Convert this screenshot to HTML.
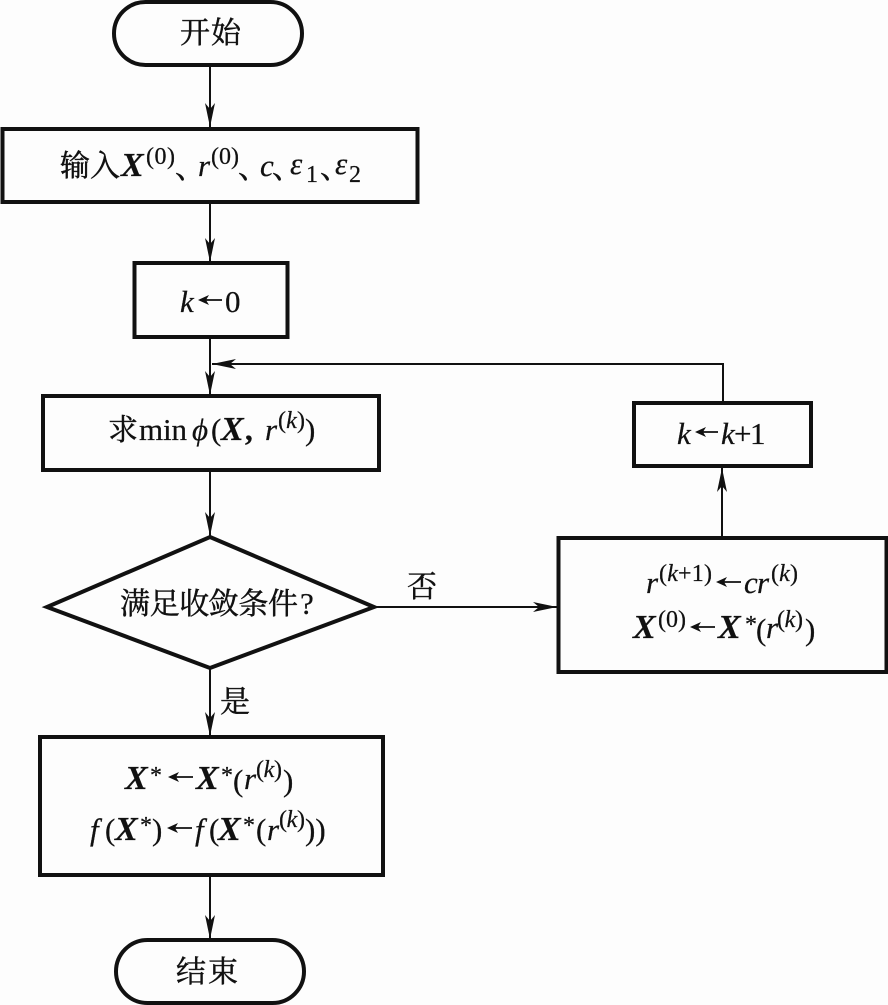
<!DOCTYPE html>
<html><head><meta charset="utf-8"><style>
html,body{margin:0;padding:0;background:#fdfdfd}
svg{display:block}
text{fill:#111;font-family:"Liberation Serif","Times New Roman",Times,serif;font-size:31px;stroke:#111;stroke-width:.25}
.c{font-family:"Noto Serif CJK SC","Liberation Serif",serif;font-size:30px;stroke-width:.45}
.i{font-style:italic}
.b{font-style:italic;font-weight:bold;font-size:34px}
.t{font-size:24px}
.box{fill:none;stroke:#111;stroke-width:4}
.ln{fill:none;stroke:#111;stroke-width:2}
.ta{fill:none;stroke:#111;stroke-width:1.8}
</style></head><body>
<svg width="888" height="1005" viewBox="0 0 888 1005" xmlns="http://www.w3.org/2000/svg">
<defs>
<path id="d" d="M0 0L-5 -24L0 -18L5 -24Z" fill="#111"/>
<path id="sa" d="M0 0L11 -5L8 0L11 5Z" fill="#111"/>
</defs>
<rect x="0" y="0" width="888" height="1005" fill="#fdfdfd"/>

<rect class="box" x="114" y="2" width="188" height="63" rx="31.5"/>
<rect class="box" x="2.500" y="129" width="415" height="73"/>
<rect class="box" x="134.500" y="263" width="153" height="74"/>
<rect class="box" x="43" y="396" width="336" height="74"/>
<path class="box" d="M210 537L374 607L210 668L47 607Z"/>
<rect class="box" x="634" y="403" width="177" height="63"/>
<rect class="box" x="558.500" y="538" width="328" height="134"/>
<rect class="box" x="40" y="737" width="343" height="138"/>
<rect class="box" x="116" y="940" width="188" height="63" rx="31.5"/>

<path class="ln" d="M210 65V128M210 202V263M210 337V396M210 470V537M210 668V737M210 875V940M723 403V364H212M374 607H558M722 538V466"/>
<use href="#d" transform="translate(210,127)"/>
<use href="#d" transform="translate(210,262)"/>
<use href="#d" transform="translate(210,395)"/>
<use href="#d" transform="translate(210,536)"/>
<use href="#d" transform="translate(210,736)"/>
<use href="#d" transform="translate(210,939)"/>
<use href="#d" transform="translate(722,468) rotate(180)"/>
<use href="#d" transform="translate(557,607) rotate(-90)"/>
<use href="#d" transform="translate(212,364) rotate(90)"/>

<text class="c" x="180" y="43" textLength="61">开始</text>
<text class="c" x="176" y="982" textLength="62">结束</text>

<text class="c" x="60" y="176" textLength="60">输入</text>
<text class="b" x="121" y="176">X</text>
<text class="t" x="146" y="164" textLength="29">(0)</text>
<text class="c" x="175" y="178">、</text>
<text class="i" x="198" y="176">r</text>
<text class="t" x="211" y="164" textLength="28">(0)</text>
<text class="c" x="238" y="178">、</text>
<text class="i" x="260" y="176">c</text>
<text class="c" x="272" y="178">、</text>
<text class="i" x="290" y="174">ε</text>
<text class="t" x="306" y="182">1</text>
<text class="c" x="320" y="178">、</text>
<text class="i" x="335" y="174">ε</text>
<text class="t" x="349" y="182">2</text>

<text class="i" x="180" y="312">k</text>
<path class="ta" d="M200 300H222"/><use href="#sa" transform="translate(198,300)"/>
<text x="225" y="312">0</text>

<text class="c" x="108" y="440">求</text>
<text x="139" y="440" textLength="48">min</text>
<text class="i" x="192" y="440">ϕ</text>
<text x="211" y="440">(</text>
<text class="b" x="221" y="440">X</text>
<text x="245" y="440" font-weight="bold">,</text>
<text class="i" x="265" y="440">r</text>
<text class="t" x="278" y="428" textLength="27">(<tspan font-style="italic">k</tspan>)</text>
<text x="305" y="440">)</text>

<text class="c" x="120" y="614" textLength="178">满足收敛条件</text>
<text x="300" y="614">?</text>
<text class="c" x="407" y="597">否</text>
<text class="c" x="220" y="712">是</text>

<text class="i" x="677" y="444">k</text>
<path class="ta" d="M698 432H718"/><use href="#sa" transform="translate(695,432)"/>
<text class="i" x="721" y="444">k</text>
<text x="734" y="444">+</text>
<text x="750" y="444">1</text>

<text class="i" x="646" y="593">r</text>
<text class="t" x="659" y="581" textLength="53">(<tspan font-style="italic">k</tspan>+1)</text>
<path class="ta" d="M719 582H741"/><use href="#sa" transform="translate(716,582)"/>
<text class="i" x="744" y="593">c</text>
<text class="i" x="757" y="593">r</text>
<text class="t" x="771" y="581" textLength="27">(<tspan font-style="italic">k</tspan>)</text>

<text class="b" x="633" y="638">X</text>
<text class="t" x="658" y="627" textLength="28">(0)</text>
<path class="ta" d="M693 627H715"/><use href="#sa" transform="translate(690,627)"/>
<text class="b" x="718" y="638">X</text>
<text class="t" x="745" y="632">*</text>
<text x="756" y="640">(</text>
<text class="i" x="766" y="638">r</text>
<text class="t" x="777" y="627" textLength="26">(<tspan font-style="italic">k</tspan>)</text>
<text x="805" y="640">)</text>

<text class="b" x="125" y="789">X</text>
<text class="t" x="150" y="783">*</text>
<path class="ta" d="M171 777H193"/><use href="#sa" transform="translate(168,777)"/>
<text class="b" x="196" y="789">X</text>
<text class="t" x="221" y="783">*</text>
<text x="233" y="791">(</text>
<text class="i" x="244" y="789">r</text>
<text class="t" x="256" y="777" textLength="26">(<tspan font-style="italic">k</tspan>)</text>
<text x="283" y="791">)</text>

<text class="i" x="90" y="840">f</text>
<text x="105" y="840">(</text>
<text class="b" x="115" y="840">X</text>
<text class="t" x="140" y="833">*</text>
<text x="152" y="840">)</text>
<path class="ta" d="M170 828H192"/><use href="#sa" transform="translate(167,828)"/>
<text class="i" x="195" y="840">f</text>
<text x="209" y="840">(</text>
<text class="b" x="218" y="840">X</text>
<text class="t" x="243" y="833">*</text>
<text x="256" y="840">(</text>
<text class="i" x="267" y="840">r</text>
<text class="t" x="279" y="827" textLength="26">(<tspan font-style="italic">k</tspan>)</text>
<text x="305" y="840">))</text>
</svg>
</body></html>
